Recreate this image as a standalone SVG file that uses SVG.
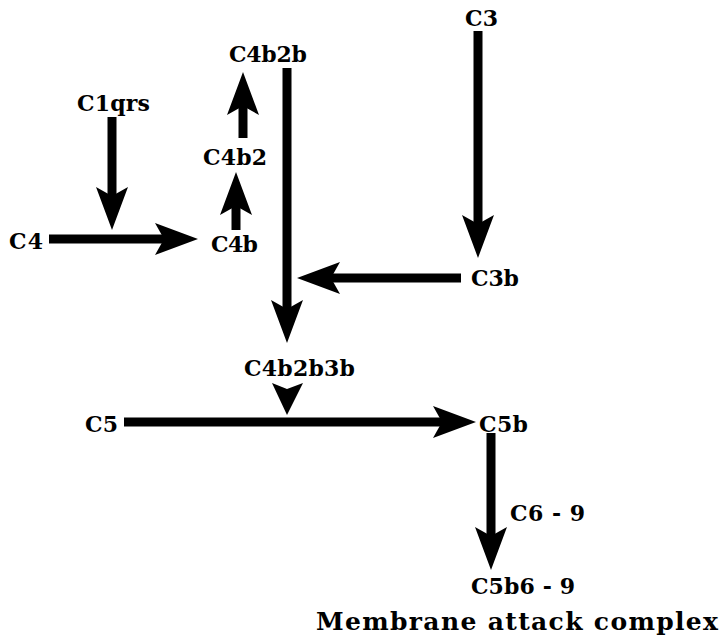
<svg xmlns="http://www.w3.org/2000/svg" width="724" height="638" viewBox="0 0 724 638">
  <style>
    .lbl { font-family: "DejaVu Serif", "Liberation Serif", serif; font-weight: bold; font-size: 22px; fill: #000; }
    .cap { font-size: 25px; }
    .ln { stroke: #000; stroke-width: 9; fill: none; marker-end: url(#head); }
  </style>
  <defs>
    <!-- barbed arrowhead; reference point sits at the notch -->
    <marker id="head" markerUnits="userSpaceOnUse" viewBox="0 0 43 32" markerWidth="43" markerHeight="32" refX="9" refY="16" orient="auto" overflow="visible">
      <path d="M43,16 L0,0 L9,16 L0,32 Z" fill="#000"/>
    </marker>
  </defs>
  <rect width="724" height="638" fill="#fff"/>

  <g id="connectors">
    <line class="ln" x1="112" y1="117" x2="112" y2="196"/>
    <line class="ln" x1="49" y1="239" x2="164" y2="239"/>
    <line class="ln" x1="236" y1="230" x2="236" y2="206"/>
    <line class="ln" x1="243" y1="138" x2="243" y2="106"/>
    <line class="ln" x1="287" y1="68" x2="287" y2="309"/>
    <line class="ln" x1="478" y1="31" x2="478" y2="224"/>
    <line class="ln" x1="461" y1="278" x2="331" y2="278"/>
    <line class="ln" x1="124" y1="422" x2="442" y2="422"/>
    <line class="ln" x1="491" y1="433" x2="491" y2="536"/>
    <!-- headless arrow from C4b2b3b onto the C5 line -->
    <path d="M287,415 L272,383 L287,389 L303,383 Z" fill="#000"/>
  </g>

  <g id="n-c1qrs"><text class="lbl" x="77" y="111" textLength="73" lengthAdjust="spacing">C1qrs</text></g>
  <g id="n-c4b2b"><text class="lbl" x="229" y="62" textLength="78" lengthAdjust="spacing">C4b2b</text></g>
  <g id="n-c4b2"><text class="lbl" x="203" y="165" textLength="64" lengthAdjust="spacing">C4b2</text></g>
  <g id="n-c4"><text class="lbl" x="9" y="249" textLength="34" lengthAdjust="spacing">C4</text></g>
  <g id="n-c4b"><text class="lbl" x="211" y="252" textLength="47" lengthAdjust="spacing">C4b</text></g>
  <g id="n-c3"><text class="lbl" x="465" y="26" textLength="33" lengthAdjust="spacing">C3</text></g>
  <g id="n-c3b"><text class="lbl" x="471" y="286" textLength="48" lengthAdjust="spacing">C3b</text></g>
  <g id="n-c4b2b3b"><text class="lbl" x="244" y="376" textLength="111" lengthAdjust="spacing">C4b2b3b</text></g>
  <g id="n-c5"><text class="lbl" x="85" y="432" textLength="33" lengthAdjust="spacing">C5</text></g>
  <g id="n-c5b"><text class="lbl" x="479" y="432" textLength="49" lengthAdjust="spacing">C5b</text></g>
  <g id="n-c6-9"><text class="lbl" x="510" y="521" textLength="75" lengthAdjust="spacing">C6 - 9</text></g>
  <g id="n-c5b6-9">
    <text class="lbl" x="471" y="594" textLength="104" lengthAdjust="spacing">C5b6 - 9</text>
    <text class="lbl cap" x="316" y="630" textLength="402" lengthAdjust="spacing">Membrane attack complex</text>
  </g>
</svg>
